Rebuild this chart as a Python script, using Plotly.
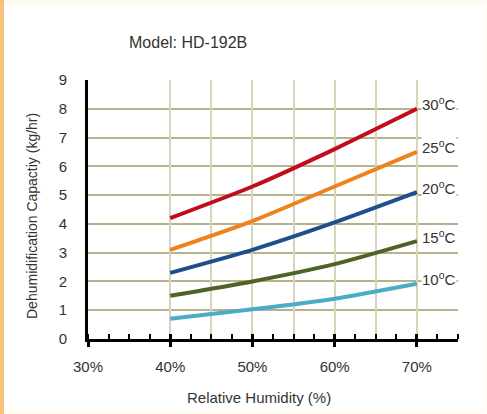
import plotly.graph_objects as go

humidity = [40, 50, 60, 70]
series_names = ["30<sup>o</sup>C", "25<sup>o</sup>C", "20<sup>o</sup>C", "15<sup>o</sup>C", "10<sup>o</sup>C"]
cap_30 = [4.2, 5.3, 6.6, 8.0]
cap_25 = [3.1, 4.1, 5.3, 6.5]
cap_20 = [2.3, 3.1, 4.05, 5.1]
cap_15 = [1.5, 2.0, 2.6, 3.4]
cap_10 = [0.7, 1.03, 1.4, 1.92]
series_values = [cap_30, cap_25, cap_20, cap_15, cap_10]
colors = ["#c00d1e", "#f0821e", "#1f4e8c", "#4f6228", "#4bacc6"]
x_tick_vals = [30, 40, 50, 60, 70]
x_tick_text = ["30%", "40%", "50%", "60%", "70%"]
y_tick_vals = list(range(0, 10))

W, H = 487, 414
L, R, T, B = 88, 29, 80, 75
pw, ph = W - L - R, H - T - B

def px(xp):
    return (xp - L) / pw

def py(yp):
    return (H - B - yp) / ph

FONT = "Liberation Sans, Arial, sans-serif"
TXT = "#333333"

fig = go.Figure()
for name, vals, c in zip(series_names, series_values, colors):
    fig.add_trace(go.Scatter(x=humidity, y=vals, mode="lines", name=name,
                             line=dict(color=c, width=4, shape="spline", smoothing=0.6),
                             showlegend=False, xaxis="x", yaxis="y"))
    fig.add_annotation(x=humidity[-1], y=vals[-1], xref="x", yref="y", text=name,
                       showarrow=False, xanchor="left", yanchor="middle", xshift=4, yshift=5,
                       bgcolor="#ffffff", borderpad=0,
                       font=dict(family=FONT, size=15, color=TXT))

# invisible traces to activate overlay axes
fig.add_trace(go.Scatter(x=[30, 75], y=[0, 9], mode="markers", marker=dict(opacity=0),
                         showlegend=False, hoverinfo="skip", xaxis="x2", yaxis="y"))
fig.add_trace(go.Scatter(x=[30, 75], y=[0, 9], mode="markers", marker=dict(opacity=0),
                         showlegend=False, hoverinfo="skip", xaxis="x3", yaxis="y"))

shapes = [
    dict(type="rect", xref="paper", yref="paper", x0=px(0), x1=px(487), y0=py(414), y1=py(0),
         fillcolor="#fffbee", line=dict(width=0), layer="below"),
    dict(type="rect", xref="paper", yref="paper", x0=px(4), x1=px(484), y0=py(410), y1=py(5),
         fillcolor="#ffffff", line=dict(width=0), layer="below"),
    dict(type="rect", xref="paper", yref="paper", x0=px(0), x1=px(4), y0=py(414), y1=py(0),
         fillcolor="#f8c47c", line=dict(width=0), layer="below"),
]

fig.update_layout(
    width=W, height=H,
    margin=dict(l=L, r=R, t=T, b=B),
    paper_bgcolor="#ffffff", plot_bgcolor="rgba(0,0,0,0)",
    font=dict(family=FONT, size=15, color=TXT),
    shapes=shapes,
    xaxis=dict(range=[30, 75], tickvals=x_tick_vals, ticktext=x_tick_text,
               showgrid=False, zeroline=False, showline=True, linecolor="black", linewidth=3,
               ticks="outside", ticklen=5, tickwidth=3, tickcolor="black",
               minor=dict(dtick=2.5, tick0=30, ticks="inside", ticklen=5, tickwidth=2, tickcolor="black"),
               tickfont=dict(family=FONT, size=15, color=TXT), ticklabelstandoff=7,
               layer="above traces"),
    xaxis2=dict(range=[30, 75], overlaying="x", anchor="y", tickvals=x_tick_vals,
                showticklabels=False, showgrid=False, zeroline=False,
                ticks="inside", ticklen=5, tickwidth=3, tickcolor="black", side="bottom"),
    xaxis3=dict(range=[30, 75], overlaying="x", anchor="y", tickvals=[40, 45, 50, 55, 60, 65, 70],
                showticklabels=False, showgrid=True, gridcolor="#d8d4bc", gridwidth=1.5,
                zeroline=False, ticks="", side="bottom", layer="below traces"),
    yaxis=dict(range=[0, 9], tickvals=y_tick_vals, showgrid=True, gridcolor="#b7b28e", gridwidth=1.5,
               zeroline=False, showline=True, linecolor="black", linewidth=3, ticks="",
               tickfont=dict(family=FONT, size=15, color=TXT), ticklabelstandoff=15),
)

fig.add_annotation(text="Model: HD-192B", xref="paper", yref="paper", x=px(187.5), y=py(42),
                   showarrow=False, xanchor="center", yanchor="middle",
                   font=dict(family=FONT, size=16, color=TXT))
fig.add_annotation(text="Relative Humidity (%)", xref="paper", yref="paper", x=px(259), y=py(397),
                   showarrow=False, xanchor="center", yanchor="middle",
                   font=dict(family=FONT, size=15, color=TXT))
fig.add_annotation(text="Dehumidification Capactiy (kg/hr)", xref="paper", yref="paper",
                   x=px(32), y=py(216), textangle=-90,
                   showarrow=False, xanchor="center", yanchor="middle",
                   font=dict(family=FONT, size=14, color=TXT))

fig.write_html("out.html", config={"displayModeBar": False},
               post_script="document.body.style.margin='0px';document.body.style.overflow='hidden';")
